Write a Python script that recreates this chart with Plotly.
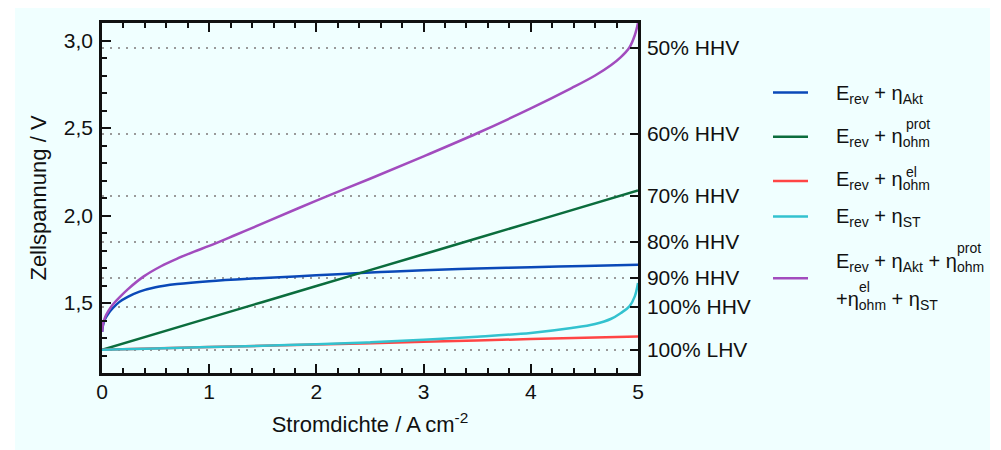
import plotly.graph_objects as go

# ---------------- data ----------------
j_akt = [0.001, 0.01, 0.03, 0.06, 0.1, 0.16, 0.24, 0.35, 0.5, 0.7, 1.0, 1.4, 1.8, 2.2, 2.6, 3.0, 3.5, 4.0, 4.5, 5.0]
u_akt = [1.335, 1.375, 1.41, 1.44, 1.47, 1.505, 1.535, 1.565, 1.59, 1.608, 1.625, 1.64, 1.652, 1.665, 1.677, 1.687, 1.697, 1.705, 1.712, 1.719]

j_prot = [0.0, 1.0, 2.0, 3.0, 4.0, 5.0]
u_prot = [1.233, 1.415, 1.597, 1.779, 1.961, 2.143]

j_el = [0.0, 1.0, 2.0, 3.0, 4.0, 5.0]
u_el = [1.233, 1.248, 1.263, 1.278, 1.294, 1.309]

j_st = [0.0, 0.5, 1.0, 1.5, 2.0, 2.5, 3.0, 3.5, 4.0, 4.38, 4.6, 4.75, 4.84, 4.92, 4.97, 5.0]
u_st = [1.233, 1.24, 1.248, 1.256, 1.265, 1.275, 1.29, 1.307, 1.329, 1.357, 1.38, 1.41, 1.443, 1.481, 1.538, 1.614]

j_sum = [0.001, 0.01, 0.03, 0.06, 0.1, 0.16, 0.24, 0.39, 0.55, 0.71, 0.86, 1.0, 1.25, 1.5, 2.0, 2.5, 3.0, 3.5, 4.0, 4.38, 4.6, 4.75, 4.84, 4.92, 4.97, 5.0]
u_sum = [1.335, 1.38, 1.42, 1.455, 1.49, 1.53, 1.578, 1.652, 1.71, 1.756, 1.794, 1.826, 1.89, 1.955, 2.085, 2.21, 2.338, 2.47, 2.612, 2.728, 2.8, 2.86, 2.905, 2.96, 3.03, 3.1]

hhv_vals = [2.96, 2.467, 2.114, 1.85, 1.644, 1.48, 1.233]
hhv_text = ["50% HHV", "60% HHV", "70% HHV", "80% HHV", "90% HHV", "100% HHV", "100% LHV"]

series_names = ["E_rev + η_Akt", "E_rev + η_ohm^prot", "E_rev + η_ohm^el", "E_rev + η_ST",
                "E_rev + η_Akt + η_ohm^prot + η_ohm^el + η_ST"]
colors = ["#0a49b8", "#0b6d3d", "#ff4545", "#33c2cf", "#a24cbe"]

legend_main = ["E<sub>rev</sub> + η<sub>Akt</sub>",
               "E<sub>rev</sub> + η<sub>ohm</sub>",
               "E<sub>rev</sub> + η<sub>ohm</sub>",
               "E<sub>rev</sub> + η<sub>ST</sub>",
               "E<sub>rev</sub> + η<sub>Akt</sub> + η<sub>ohm</sub>"]
legend_second = "+η<sub>ohm</sub> + η<sub>ST</sub>"

# ---------------- geometry helpers (page px -> paper) ----------------
OFF = 8                      # default body margin of the page
W, H = 993, 442
L, R, T, B = 94, 363, 15, 77
PW, PH = W - L - R, H - T - B


def px2x(px):
    return (px - OFF - L) / PW


def py2y(py):
    return (H - B - (py - OFF)) / PH


FONT = "Liberation Sans"
BG = "#f0ffff"

fig = go.Figure()
data = [(j_akt, u_akt), (j_prot, u_prot), (j_el, u_el), (j_st, u_st), (j_sum, u_sum)]
for (jx, uy), name, col in zip(data, series_names, colors):
    fig.add_trace(go.Scatter(x=jx, y=uy, mode="lines", name=name,
                             line=dict(color=col, width=2.5, shape="spline", smoothing=1.0),
                             showlegend=False))
# carrier trace for the right-hand efficiency axis
fig.add_trace(go.Scatter(x=[None], y=[None], yaxis="y2", showlegend=False, hoverinfo="skip"))

axis_common = dict(showline=True, linecolor="#111", linewidth=2.5, zeroline=False,
                   tickcolor="#111", tickwidth=1.5)
title_font = dict(family=FONT, size=22, color="#111")

fig.update_layout(
    width=W, height=H,
    margin=dict(l=L, r=R, t=T, b=B, autoexpand=False),
    paper_bgcolor="white", plot_bgcolor=BG,
    separators=",.",
    font=dict(family=FONT, size=21, color="#111"),
    xaxis=dict(range=[0, 5], tickmode="linear", tick0=0, dtick=1, ticks="inside", ticklen=9,
               mirror="ticks", showgrid=False,
               minor=dict(dtick=0.2, tick0=0, ticks="inside", ticklen=5, tickcolor="#111", tickwidth=1.5, showgrid=False),
               title=dict(text="Stromdichte / A\u2009cm<sup>-2</sup>", standoff=15, font=title_font),
               ticklabelstandoff=-2, **axis_common),
    yaxis=dict(range=[1.1, 3.1], tickmode="linear", tick0=0, dtick=0.5, tickformat=".1f",
               ticks="inside", ticklen=9, mirror=True, showgrid=False,
               minor=dict(dtick=0.1, tick0=0, ticks="inside", ticklen=5, tickcolor="#111", tickwidth=1.5, showgrid=False),
               title=dict(text="Zellspannung / V", standoff=12, font=title_font),
               ticklabelstandoff=2, **axis_common),
    yaxis2=dict(range=[1.1, 3.1], overlaying="y", side="right", tickmode="array",
                tickvals=hhv_vals, ticktext=hhv_text, ticks="inside", ticklen=8,
                showgrid=True, gridcolor="#9a9a9a", gridwidth=1.5, griddash="2px,6px",
                ticklabelstandoff=2, **axis_common),
)

# light background panel (page px 15..990 x 8..450)
fig.add_shape(type="rect", xref="paper", yref="paper", layer="below",
              x0=px2x(15), x1=px2x(990), y0=py2y(450), y1=py2y(8),
              fillcolor=BG, line=dict(width=0))

# ---------------- custom legend ----------------
line_y = [92.5, 136.7, 181, 216.5, 278.3]
text_y = [94.5, 137, 180.5, 217.5, 262]
for ly, ty, col, txt in zip(line_y, text_y, colors, legend_main):
    fig.add_shape(type="line", xref="paper", yref="paper",
                  x0=px2x(773), x1=px2x(808), y0=py2y(ly), y1=py2y(ly),
                  line=dict(color=col, width=2.5))
    fig.add_annotation(xref="paper", yref="paper", x=px2x(834), y=py2y(ty), text=txt,
                       showarrow=False, xanchor="left", yanchor="middle",
                       font=dict(family=FONT, size=20, color="#111"))
fig.add_annotation(xref="paper", yref="paper", x=px2x(834), y=py2y(300), text=legend_second,
                   showarrow=False, xanchor="left", yanchor="middle",
                   font=dict(family=FONT, size=20, color="#111"))
# stacked superscripts
sup_items = [("prot", 904, 124), ("el", 904, 172), ("prot", 955, 248), ("el", 857, 287)]
for s, sx, sy in sup_items:
    fig.add_annotation(xref="paper", yref="paper", x=px2x(sx), y=py2y(sy), text=s,
                       showarrow=False, xanchor="left", yanchor="middle",
                       font=dict(family=FONT, size=14, color="#111"))

fig.write_html("out.html")
